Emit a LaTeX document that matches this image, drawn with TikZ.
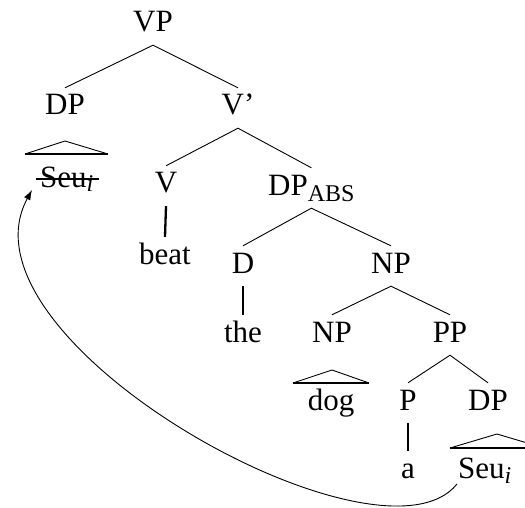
\documentclass[tikz,border=0pt]{standalone}
\usepackage{fontspec}
\setmainfont{Liberation Serif}
\usetikzlibrary{calc,arrows.meta}
\newcommand\bigfs{\fontsize{31}{31}\selectfont}
\newcommand\subfs{\fontsize{24}{24}\selectfont}
\begin{document}
\begin{tikzpicture}[x=1pt,y=-1pt,
  tnode/.style={font=\bigfs, anchor=base, inner xsep=0pt, inner ysep=13pt, text height=14pt, text depth=0pt},
  branch/.style={line width=0.9pt},
  stem/.style={line width=2.3pt},
  roof/.style={line width=0.9pt},
  roofbase/.style={line width=2.3pt},
  strike/.style={line width=1.5pt},
  movearrow/.style={line width=0.9pt, -{Latex[length=10pt,width=7pt]}}]
\useasboundingbox (0,0) rectangle (525,508);
\clip (0,0) rectangle (525,508);
% nodes
\node[tnode] (VP) at (153,32) {VP};
\node[tnode] (DPa) at (65,115) {DP};
\node[tnode] (Vbar) at (238,115) {V’};
\node[tnode, anchor=base west] (Seua) at (40,187) {Seu\raisebox{-5pt}{\subfs\itshape i}};
\node[tnode] (V) at (166,193) {V};
\node[tnode, anchor=base west] (DPabs) at (268,195) {DP\raisebox{-6pt}{\subfs ABS}};
\node[tnode] (beat) at (165,264) {beat};
\node[tnode] (D) at (243,273) {D};
\node[tnode] (NPa) at (391,273) {NP};
\node[tnode] (the) at (243,342) {the};
\node[tnode] (NPb) at (332,342) {NP};
\node[tnode] (PP) at (450,342) {PP};
\node[tnode] (dog) at (331,410) {dog};
\node[tnode] (P) at (408,410) {P};
\node[tnode] (DPb) at (488,410) {DP};
\node[tnode] (a) at (408,478) {a};
\node[tnode, anchor=base west] (Seub) at (458,478) {Seu\raisebox{-5pt}{\subfs\itshape i}};
% branches
\draw[branch] (DPa.north) -- (VP.south) -- (Vbar.north);
\draw[branch] (V.north) -- (Vbar.south) -- (DPabs.north);
\draw[branch] (D.north) -- (DPabs.south) -- (NPa.north);
\draw[branch] (NPb.north) -- (NPa.south) -- (PP.north);
\draw[branch] (P.north) -- (PP.south) -- (DPb.north);
\draw[stem] (V.south) -- (beat.north);
\draw[stem] (D.south) -- (the.north);
\draw[stem] (P.south) -- (a.north);
% roofs
\draw[roof] (25,154) -- (65,141) -- (108,154);
\draw[roofbase] (25,154) -- (108,154);
\draw[roof] (293,383) -- (332,370) -- (369,383);
\draw[roofbase] (293,383) -- (369,383);
\draw[roof] (450,448) -- (497,434) -- (544,448);
\draw[roofbase] (450,448) -- (544,448);
% strike-through of the lower copy
\draw[strike] ($(Seua.base west)+(-4,-8)$) -- ($(Seua.base east)+(5,-8)$);
% movement arrow
\coordinate (mvstart) at ($(Seub.base west)+(-1,6)$);
\coordinate (mvend) at ($(Seua.base west)+(-8,3)$);
\draw[movearrow] (mvstart) .. controls (380,580) and (-50,340) .. (mvend);
\end{tikzpicture}
\end{document}
